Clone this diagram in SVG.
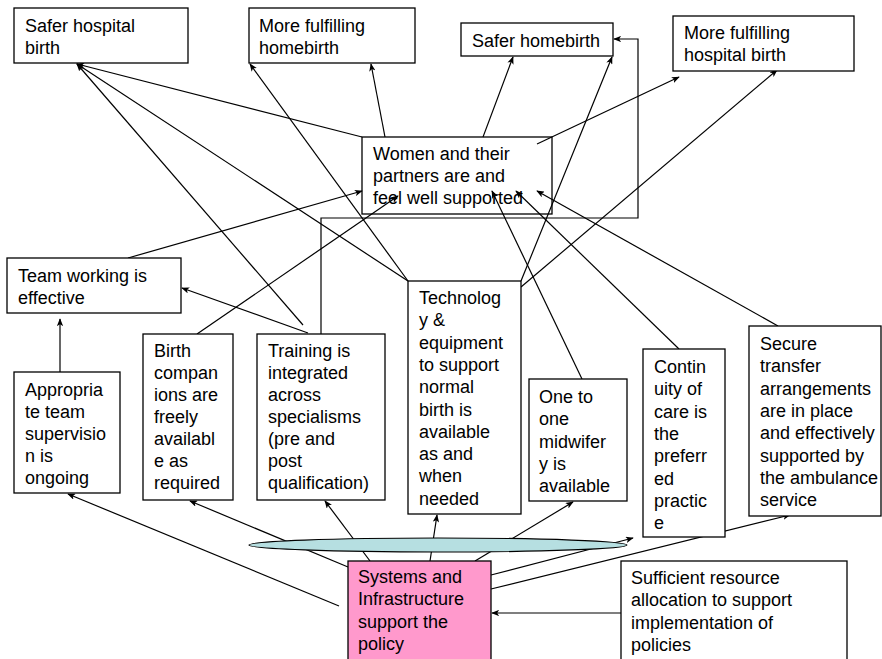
<svg xmlns="http://www.w3.org/2000/svg" width="882" height="659" viewBox="0 0 882 659">
<style>
.box{fill:#fff;stroke:#000;stroke-width:1.3}
.pink{fill:#ff99cc;stroke:#000;stroke-width:1.3}
.t{font-family:"Liberation Sans",Arial,sans-serif;font-size:18px;fill:#000}
.c{fill:none;stroke:#000;stroke-width:1.2}
.a{marker-end:url(#ah)}
</style>
<defs>
<marker id="ah" viewBox="0 0 10 8" refX="9" refY="4" markerWidth="8" markerHeight="6.4" markerUnits="userSpaceOnUse" orient="auto">
<path d="M0,0 L10,4 L0,8 L2.5,4 Z" fill="#000"/>
</marker>
</defs>
<rect width="882" height="659" fill="#fff"/>
<g id="connectors">
<line class="c a" x1="362" y1="137" x2="77" y2="64"/>
<line class="c a" x1="303" y1="325" x2="77" y2="64"/>
<line class="c a" x1="408" y1="281" x2="77" y2="64"/>
<line class="c a" x1="408" y1="281" x2="250" y2="64"/>
<line class="c a" x1="385" y1="137" x2="371" y2="64"/>
<line class="c a" x1="483" y1="137" x2="513" y2="57"/>
<line class="c a" x1="521" y1="281" x2="612" y2="57"/>
<line class="c a" x1="537" y1="144" x2="679" y2="77"/>
<line class="c a" x1="521" y1="287" x2="777" y2="70"/>
<line class="c a" x1="128" y1="258" x2="362" y2="191"/>
<line class="c a" x1="197" y1="334" x2="398" y2="196"/>
<line class="c a" x1="582" y1="379" x2="492" y2="191"/>
<line class="c a" x1="679" y1="349" x2="516" y2="191"/>
<line class="c a" x1="778" y1="326" x2="537" y2="191"/>
<line class="c a" x1="308" y1="333" x2="182" y2="288"/>
<line class="c a" x1="60" y1="372" x2="60" y2="319"/>
<polyline class="c a" points="321,334 321,218 638,218 638,39 614,39"/>
<line class="c a" x1="339" y1="606" x2="68" y2="494"/>
<line class="c a" x1="348" y1="567" x2="190" y2="501"/>
<line class="c a" x1="370" y1="561" x2="325" y2="501"/>
<line class="c a" x1="430" y1="561" x2="437" y2="515"/>
<line class="c a" x1="475" y1="561" x2="573" y2="502"/>
<line class="c a" x1="491" y1="575" x2="633" y2="538"/>
<line class="c a" x1="491" y1="589" x2="790" y2="515"/>
<line class="c a" x1="621" y1="613" x2="492" y2="613"/>
</g>
<g id="ellipse">
<ellipse cx="438" cy="545" rx="189" ry="7" fill="#b6dfe1" stroke="#000" stroke-width="1.2"/>
</g>
<g id="safer-hospital">
<rect class="box" x="14" y="8" width="174" height="55"/>
<text class="t" x="25" y="32">Safer hospital</text>
<text class="t" x="25" y="54">birth</text>
</g>
<g id="fulfilling-home">
<rect class="box" x="249" y="8" width="166" height="55"/>
<text class="t" x="259" y="32">More fulfilling</text>
<text class="t" x="259" y="54">homebirth</text>
</g>
<g id="safer-home">
<rect class="box" x="461" y="23" width="152" height="33"/>
<text class="t" x="472" y="47">Safer homebirth</text>
</g>
<g id="fulfilling-hospital">
<rect class="box" x="673" y="16" width="181" height="55"/>
<text class="t" x="684" y="39">More fulfilling</text>
<text class="t" x="684" y="61">hospital birth</text>
</g>
<g id="women">
<rect class="box" x="362" y="137" width="190" height="77" fill-opacity="0"/>
<text class="t" x="373" y="160">Women and their</text>
<text class="t" x="373" y="182">partners are and</text>
<text class="t" x="373" y="204">feel well supported</text>
</g>
<g id="team">
<rect class="box" x="7" y="258" width="174" height="55"/>
<text class="t" x="18" y="282">Team working is</text>
<text class="t" x="18" y="304">effective</text>
</g>
<g id="supervision">
<rect class="box" x="14" y="372" width="106" height="121"/>
<text class="t" x="25" y="396">Appropria</text>
<text class="t" x="25" y="418">te team</text>
<text class="t" x="25" y="440">supervisio</text>
<text class="t" x="25" y="462">n is</text>
<text class="t" x="25" y="484">ongoing</text>
</g>
<g id="companions">
<rect class="box" x="143" y="334" width="90" height="166"/>
<text class="t" x="154" y="357">Birth</text>
<text class="t" x="154" y="379">compan</text>
<text class="t" x="154" y="401">ions are</text>
<text class="t" x="154" y="423">freely</text>
<text class="t" x="154" y="445">availabl</text>
<text class="t" x="154" y="467">e as</text>
<text class="t" x="154" y="489">required</text>
</g>
<g id="training">
<rect class="box" x="257" y="334" width="128" height="166"/>
<text class="t" x="268" y="357">Training is</text>
<text class="t" x="268" y="379">integrated</text>
<text class="t" x="268" y="401">across</text>
<text class="t" x="268" y="423">specialisms</text>
<text class="t" x="268" y="445">(pre and</text>
<text class="t" x="268" y="467">post</text>
<text class="t" x="268" y="489">qualification)</text>
</g>
<g id="technology">
<rect class="box" x="408" y="281" width="113" height="233"/>
<text class="t" x="419" y="304">Technolog</text>
<text class="t" x="419" y="326.3">y &amp;</text>
<text class="t" x="419" y="348.6">equipment</text>
<text class="t" x="419" y="370.9">to support</text>
<text class="t" x="419" y="393.2">normal</text>
<text class="t" x="419" y="415.5">birth is</text>
<text class="t" x="419" y="437.8">available</text>
<text class="t" x="419" y="460.1">as and</text>
<text class="t" x="419" y="482.4">when</text>
<text class="t" x="419" y="504.7">needed</text>
</g>
<g id="one-to-one">
<rect class="box" x="529" y="379" width="98" height="122"/>
<text class="t" x="539" y="403">One to</text>
<text class="t" x="539" y="425.3">one</text>
<text class="t" x="539" y="447.6">midwifer</text>
<text class="t" x="539" y="469.9">y is</text>
<text class="t" x="539" y="492.2">available</text>
</g>
<g id="continuity">
<rect class="box" x="643" y="349" width="82" height="188"/>
<text class="t" x="654" y="373">Contin</text>
<text class="t" x="654" y="395.3">uity of</text>
<text class="t" x="654" y="417.6">care is</text>
<text class="t" x="654" y="439.9">the</text>
<text class="t" x="654" y="462.2">preferr</text>
<text class="t" x="654" y="484.5">ed</text>
<text class="t" x="654" y="506.8">practic</text>
<text class="t" x="654" y="529.1">e</text>
</g>
<g id="transfer">
<rect class="box" x="749" y="326" width="132" height="190"/>
<text class="t" x="760" y="350">Secure</text>
<text class="t" x="760" y="372.3">transfer</text>
<text class="t" x="760" y="394.6">arrangements</text>
<text class="t" x="760" y="416.9">are in place</text>
<text class="t" x="760" y="439.2">and effectively</text>
<text class="t" x="760" y="461.5">supported by</text>
<text class="t" x="760" y="483.8">the ambulance</text>
<text class="t" x="760" y="506.1">service</text>
</g>
<g id="systems">
<rect class="pink" x="348" y="561" width="143" height="100"/>
<text class="t" x="358" y="583">Systems and</text>
<text class="t" x="358" y="605.3">Infrastructure</text>
<text class="t" x="358" y="627.6">support the</text>
<text class="t" x="358" y="649.9">policy</text>
</g>
<g id="resources">
<rect class="box" x="621" y="561" width="226" height="100"/>
<text class="t" x="631" y="584">Sufficient resource</text>
<text class="t" x="631" y="606.3">allocation to support</text>
<text class="t" x="631" y="628.6">implementation of</text>
<text class="t" x="631" y="650.9">policies</text>
</g>
</svg>
